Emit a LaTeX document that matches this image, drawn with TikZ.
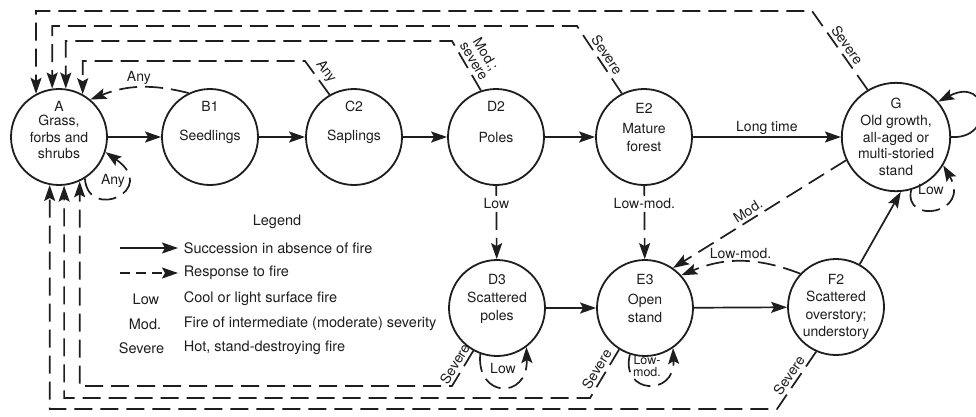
\documentclass[tikz,border=0pt]{standalone}
\usepackage{fontspec}
\setmainfont{TeX Gyre Heros}[Scale=1.4]
\newfontfamily\legfam{TeX Gyre Heros}[Scale=1.45]
\newfontfamily\smfam{TeX Gyre Heros}[Scale=1.25]
\usetikzlibrary{arrows.meta,calc}
\definecolor{ink}{HTML}{1E1E1E}
\newcommand{\dgfont}[1]{\fontsize{10}{#1}\selectfont}
\begin{document}
\begin{tikzpicture}[x=1pt,y=1pt,
  tx/.style={font=\dgfont{17}, text=ink},
  st/.style={tx, circle, draw=ink, line width=1.8pt, minimum size=96pt, inner sep=0pt, align=center},
  idl/.style={tx, inner sep=0pt},
  succ/.style={draw=ink, line width=1.7pt, -{Stealth[length=16pt,width=11pt,inset=3pt]}},
  fire/.style={succ, dash pattern=on 18pt off 8pt},
  lbl/.style={tx, inner sep=2pt},
  flbl/.style={tx, inner sep=3pt},
  small/.style={text=ink, font=\smfam\fontsize{10}{11.5}\selectfont, inner sep=0pt, align=center},
  legt/.style={font=\legfam\fontsize{10}{17}\selectfont, text=ink},
]
\fill[white] (0,0) rectangle (976,-416);
\useasboundingbox (0,0) rectangle (976,-416);

% states
\node[st, font=\dgfont{16.5}, label={[idl, yshift=31pt]center:A}] (A) at (59,-137) {Grass,\\forbs and\\shrubs};
\node[st, label={[idl, yshift=31pt]center:B1}] (B1) at (210,-137) {Seedlings};
\node[st, label={[idl, yshift=31pt]center:C2}] (C2) at (354,-137) {Saplings};
\node[st, label={[idl, yshift=31pt]center:D2}] (D2) at (496,-137) {Poles};
\node[st, font=\dgfont{18}, label={[idl, yshift=29pt]center:E2}] (E2) at (644,-137) {Mature\\forest};
\node[st, font=\dgfont{16.7}] (G) at (896,-137) {G\\Old growth,\\all-aged or\\multi-storied\\stand};
\node[st, font=\dgfont{18}, label={[idl, yshift=29pt]center:D3}] (D3) at (497,-308) {Scattered\\poles};
\node[st, font=\dgfont{18}, label={[idl, yshift=29pt]center:E3}] (E3) at (645,-308) {Open\\stand};
\node[st, font=\dgfont{17.3}] (F2) at (836,-307) {F2\\Scattered\\overstory;\\understory};

% succession in absence of fire
\draw[succ] (A) -- (B1);
\draw[succ] (B1) -- (C2);
\draw[succ] (C2) -- (D2);
\draw[succ] (D2) -- (E2);
\draw[succ] (E2) -- node[above, lbl] (lt) {Long time} (G);
\draw[succ] (D3) -- (E3);
\draw[succ] (E3) -- (F2);
\draw[succ] (F2.61) -- (G.-85);
\draw[succ] (G.0) .. controls (995,-140) and (990,-75) .. (G.40);

% responses to fire
\draw[fire] (B1.116) to[bend right=18] node[above, lbl] (l1) {Any} (A.50);
\draw[fire] (A.-58) .. controls (88,-222) and (160,-190) .. (A.-18);
\node[lbl] (l2) at (113,-181) {Any};

\draw[fire] (D2) -- node[pos=0.24, fill=white, lbl] (l3) {Low} (D3);
\draw[fire] (E2) -- node[pos=0.24, fill=white, lbl] (l4) {Low-mod.} (E3);
\draw[fire] (G.-155.5) -- node[pos=0.54, rotate=31.8, anchor=south, flbl] (l5) {Mod.} (E3.55.7);
\draw[fire] (F2.137) to[bend right=22] node[above, lbl] (l6) {Low-mod.} (E3.42.6);

\draw[fire] (D3.-110) .. controls (476,-398) and (528,-400) .. (D3.-53);
\node[lbl] (l7) at (503,-368) {Low};
\draw[fire] (E3.-108) .. controls (620,-394) and (675,-397) .. (E3.-55);
\node[small] (l8) at (647,-366) {Low-\\mod.};
\draw[fire] (G.-74) .. controls (903,-225) and (972,-214) .. (G.-31);
\node[lbl] (l9) at (931,-189) {Low};

% long fire returns to A (top)
\draw[fire] (G.121.3) -- node[rotate=-54.7, anchor=south, flbl] (t1) {Severe} (812,-11) -| (A.118.1);
\draw[fire] (E2.117.6) -- node[rotate=-56, anchor=south, flbl] (t2) {Severe} (577,-26) -| (A.98.2);
\draw[fire] (D2.108) -- node[rotate=-59, anchor=south, flbl, align=center, font=\dgfont{13.5}] (t3) {Mod.;\\severe} (452,-41) -| (A.82.9);
\draw[fire] (C2.120) -- node[rotate=-54, anchor=south, flbl] (t4) {Any} (305,-61) -| (A.61.9);

% long fire returns to A (bottom)
\draw[fire] (D3.-119) -- node[rotate=59, anchor=south, flbl] (b1) {Severe} (452,-386) -| (A.-65.8);
\draw[fire] (E3.-122) -- node[rotate=59, anchor=south, flbl] (b2) {Severe} (590,-398) -| (A.-84.1);
\draw[fire] (F2.-114.5) -- node[rotate=56, anchor=south, flbl] (b3) {Severe} (777,-409) -| (A.-101.8);

% legend
\node[legt] (leg) at (277,-222) {Legend};
\coordinate (ls1) at (120,-248); \coordinate (le1) at (178,-248);
\coordinate (ls2) at (120,-273); \coordinate (le2) at (178,-273);
\draw[succ] (ls1) -- (le1);
\draw[succ, dash pattern=on 10pt off 6pt] (ls2) -- (le2);
\node[anchor=west, legt] (d1) at (179,-248) {Succession in absence of fire};
\node[anchor=west, legt] (d2) at (179,-273) {Response to fire};
\node[anchor=east, legt] (k3) at (164,-299) {Low};
\node[anchor=east, legt] (k4) at (166,-324) {Mod.};
\node[anchor=east, legt] (k5) at (169,-348) {Severe};
\node[anchor=west, legt] (d3) at (179,-299) {Cool or light surface fire};
\node[anchor=west, legt] (d4) at (179,-324) {Fire of intermediate (moderate) severity};
\node[anchor=west, legt] (d5) at (179,-348) {Hot, stand-destroying fire};
\end{tikzpicture}
\end{document}
